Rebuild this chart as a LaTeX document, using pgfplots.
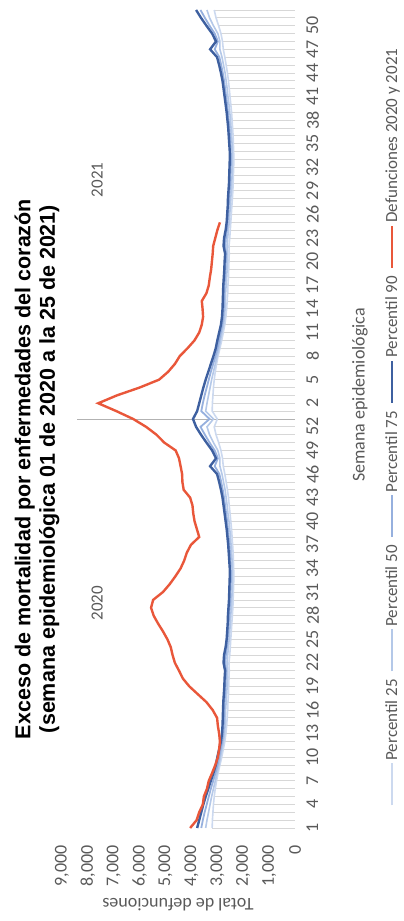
\documentclass[border=0pt]{standalone}
\usepackage{graphicx}
\usepackage{fontspec}
\setmainfont{Carlito}
\newfontfamily\titlefont{Liberation Sans}
\usepackage{pgfplots}
\usepackage{pgfplotstable}
\pgfplotsset{compat=1.18}

\definecolor{defred}{RGB}{233,87,58}
\definecolor{pninety}{RGB}{62,96,160}
\definecolor{pseventy}{RGB}{150,176,222}
\definecolor{pfifty}{RGB}{180,200,232}
\definecolor{ptwenty}{RGB}{204,217,239}
\definecolor{combgray}{RGB}{215,215,215}
\definecolor{txtgray}{RGB}{89,89,89}

% percentiles by week: 2020 (weeks 1-53) then 2021 (weeks 1-52)
\pgfplotstableread{
i p25 p50 p75 p90
1 3200 3450 3620 3780
2 3190 3400 3560 3700
3 3170 3340 3490 3620
4 3150 3280 3410 3540
5 3120 3220 3330 3450
6 3080 3150 3250 3350
7 3030 3080 3160 3250
8 2970 3010 3070 3150
9 2900 2940 2990 3060
10 2830 2880 2930 3000
11 2770 2820 2870 2930
12 2710 2760 2810 2860
13 2670 2720 2770 2820
14 2640 2700 2750 2800
15 2620 2690 2740 2790
16 2600 2680 2730 2780
17 2590 2660 2720 2770
18 2570 2640 2700 2750
19 2560 2620 2680 2730
20 2550 2610 2670 2720
21 2540 2600 2660 2700
22 2550 2620 2690 2760
23 2520 2600 2670 2740
24 2500 2570 2630 2680
25 2480 2540 2600 2640
26 2460 2520 2580 2620
27 2440 2500 2560 2600
28 2420 2480 2540 2590
29 2400 2460 2520 2570
30 2390 2440 2500 2550
31 2380 2430 2490 2540
32 2370 2420 2480 2530
33 2360 2420 2470 2520
34 2370 2420 2480 2520
35 2380 2430 2490 2540
36 2390 2450 2510 2560
37 2410 2470 2530 2580
38 2430 2490 2560 2610
39 2450 2520 2590 2640
40 2480 2550 2620 2680
41 2510 2590 2660 2720
42 2540 2620 2700 2760
43 2570 2660 2740 2800
44 2610 2700 2790 2860
45 2660 2760 2850 2930
46 2710 2820 2920 3010
47 2770 2900 3100 3280
48 2800 2900 2980 3050
49 2860 2980 3100 3200
50 2950 3150 3300 3420
51 3050 3300 3480 3630
52 3120 3400 3650 3820
53 3000 3150 3300 3940
54 3200 3450 3620 3780
55 3190 3400 3560 3700
56 3170 3340 3490 3620
57 3150 3280 3410 3540
58 3120 3220 3330 3450
59 3080 3150 3250 3350
60 3030 3080 3160 3250
61 2970 3010 3070 3150
62 2900 2940 2990 3060
63 2830 2880 2930 3000
64 2770 2820 2870 2930
65 2710 2760 2810 2860
66 2670 2720 2770 2820
67 2640 2700 2750 2800
68 2620 2690 2740 2790
69 2600 2680 2730 2780
70 2590 2660 2720 2770
71 2570 2640 2700 2750
72 2560 2620 2680 2730
73 2550 2610 2670 2720
74 2540 2600 2660 2700
75 2550 2620 2690 2760
76 2520 2600 2670 2740
77 2500 2570 2630 2680
78 2480 2540 2600 2640
79 2460 2520 2580 2620
80 2440 2500 2560 2600
81 2420 2480 2540 2590
82 2400 2460 2520 2570
83 2390 2440 2500 2550
84 2380 2430 2490 2540
85 2370 2420 2480 2530
86 2360 2420 2470 2520
87 2370 2420 2480 2520
88 2380 2430 2490 2540
89 2390 2450 2510 2560
90 2410 2470 2530 2580
91 2430 2490 2560 2610
92 2450 2520 2590 2640
93 2480 2550 2620 2680
94 2510 2590 2660 2720
95 2540 2620 2700 2760
96 2570 2660 2740 2800
97 2610 2700 2790 2860
98 2660 2760 2850 2930
99 2710 2820 2920 3010
100 2770 2900 3100 3280
101 2800 2900 2980 3050
102 2860 2980 3100 3200
103 2950 3150 3300 3420
104 3050 3300 3480 3630
105 3120 3400 3650 3820
}\percentiles

% deaths, 2020 week 1 to 2021 week 25
\pgfplotstableread{
i total
1 4050
2 3800
3 3700
4 3560
5 3520
6 3400
7 3330
8 3200
9 3080
10 2980
11 2930
12 2900
13 2930
14 2980
15 3010
16 3180
17 3420
18 3750
19 4080
20 4330
21 4480
22 4640
23 4730
24 4800
25 4930
26 5100
27 5290
28 5460
29 5560
30 5480
31 5100
32 4840
33 4620
34 4420
35 4280
36 4180
37 4020
38 3700
39 3790
40 3880
41 3930
42 3960
43 4050
44 4300
45 4350
46 4360
47 4420
48 4480
49 4610
50 5050
51 5350
52 5750
53 6250
54 6900
55 7600
56 6880
57 6000
58 5250
59 4900
60 4640
61 4450
62 4150
63 3880
64 3700
65 3600
66 3550
67 3570
68 3600
69 3420
70 3330
71 3290
72 3240
73 3210
74 3180
75 3160
76 3080
77 3000
78 2900
}\deaths

\begin{document}
\rotatebox{90}{%
\begin{tikzpicture}
\useasboundingbox (0,0) rectangle (921pt,404pt);
\begin{axis}[
    at={(93pt,109pt)}, anchor=south west,
    width=818pt, height=233pt, scale only axis,
    xmin=1, xmax=105, ymin=0, ymax=9000,
    clip=false,
    axis line style={draw=none},
    major tick length=0pt,
    xtick={1,4,...,103},
    xticklabels={1,4,7,10,13,16,19,22,25,28,31,34,37,40,43,46,49,52,2,5,8,11,14,17,20,23,26,29,32,35,38,41,44,47,50},
    ytick={0,1000,...,9000},
    scaled y ticks=false,
    /pgf/number format/.cd, 1000 sep={,}, assume math mode=true,
    /pgfplots/.cd,
    tick label style={font=\fontsize{18}{20}\selectfont, text=txtgray},
    xticklabel style={yshift=-8pt},
    yticklabel style={xshift=-14pt},
    legend columns=5,
    legend style={draw=none, fill=none, at={(0.491,-0.416)}, anchor=center,
        font=\fontsize{17}{19}\selectfont, text=txtgray,
        /tikz/every even column/.append style={column sep=5pt}},
    legend image code/.code={\draw[#1, line cap=butt] (0pt,0pt) -- (42pt,0pt);},
]
% drop lines and year divider
\addplot[ycomb, combgray, line width=0.8pt, forget plot] table[x=i, y=p25] {\percentiles};
\addplot[ycomb, gray!60, line width=0.8pt, forget plot] coordinates {(53,8420)};

\addplot[ptwenty, line width=1.6pt] table[x=i, y=p25] {\percentiles};
\addlegendentry{Percentil 25}
\addplot[pfifty, line width=1.6pt] table[x=i, y=p50] {\percentiles};
\addlegendentry{Percentil 50}
\addplot[pseventy, line width=1.8pt] table[x=i, y=p75] {\percentiles};
\addlegendentry{Percentil 75}
\addplot[pninety, line width=2.4pt] table[x=i, y=p90] {\percentiles};
\addlegendentry{Percentil 90}
\addplot[defred, line width=2.4pt] table[x=i, y=total] {\deaths};
\addlegendentry{Defunciones 2020 y 2021}

\node[font=\fontsize{17}{19}\selectfont, text=txtgray] at (axis cs:29.6,7640) {2020};
\node[font=\fontsize{17}{19}\selectfont, text=txtgray] at (axis cs:83.4,7640) {2021};
\end{axis}
\node[font=\titlefont\bfseries\fontsize{21.5}{24.5}\selectfont, align=center]
    at (452pt,367pt) {Exceso de mortalidad por enfermedades del corazón\\(semana epidemiológica 01 de 2020 a la 25 de 2021)};
\node[font=\fontsize{18}{20}\selectfont, text=txtgray] at (526pt,44pt) {Semana epidemiológica};
\node[rotate=90, font=\fontsize{18}{20}\selectfont, text=txtgray] at (16pt,226pt) {Total de defunciones};
\end{tikzpicture}}
\end{document}
